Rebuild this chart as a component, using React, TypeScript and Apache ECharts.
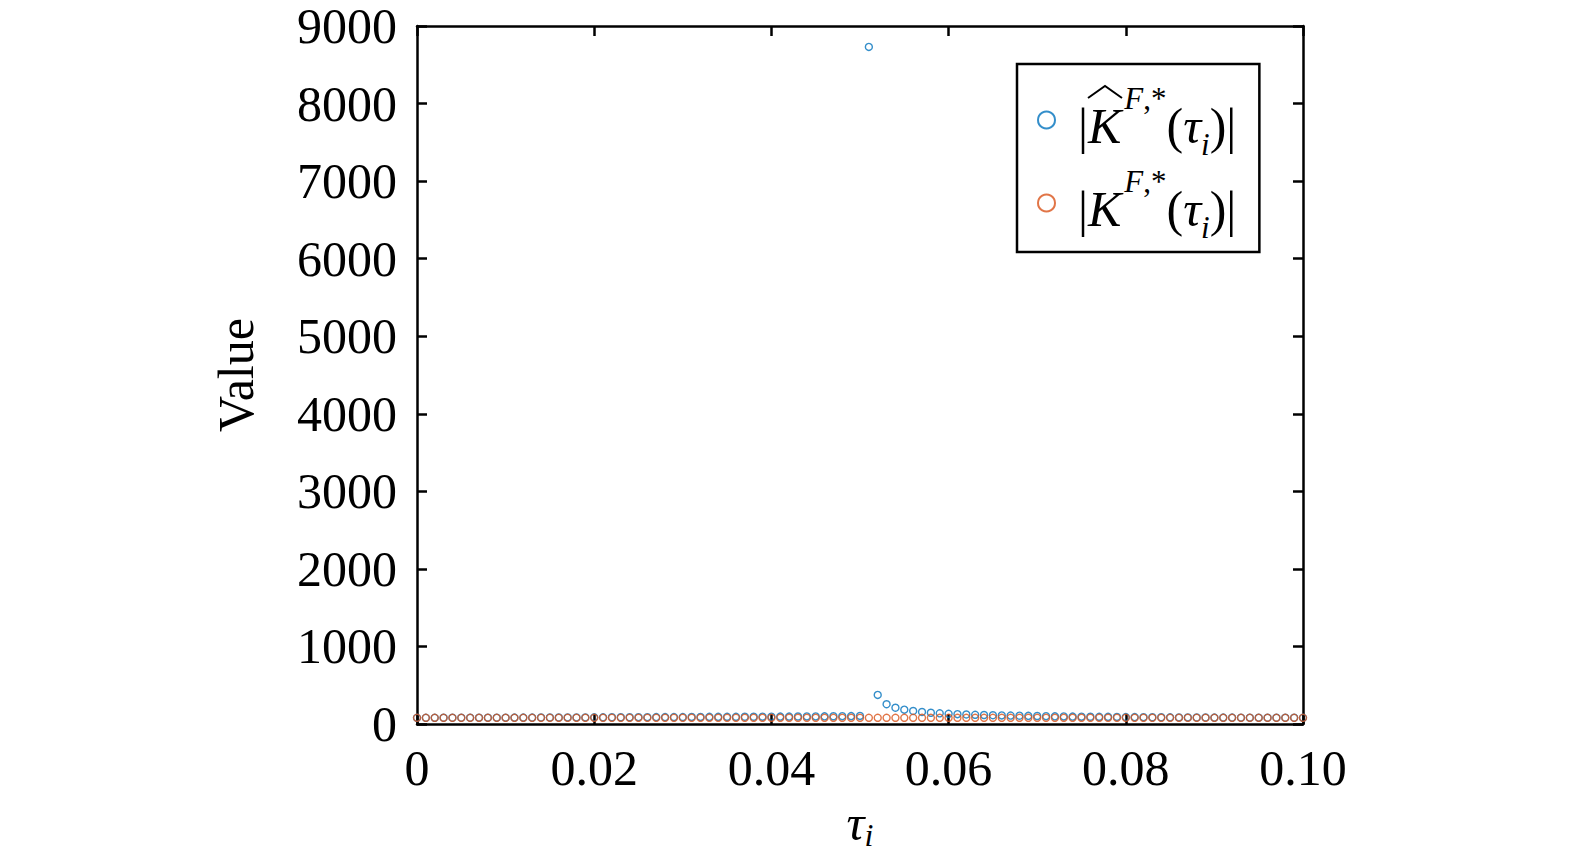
import React, { useEffect, useRef } from "react";
import * as echarts from "echarts";

const tau: number[] = [
  0, 0.001, 0.002, 0.003, 0.004, 0.005, 0.006, 0.007, 0.008, 0.009,
  0.01, 0.011, 0.012, 0.013, 0.014, 0.015, 0.016, 0.017, 0.018, 0.019,
  0.02, 0.021, 0.022, 0.023, 0.024, 0.025, 0.026, 0.027, 0.028, 0.029,
  0.03, 0.031, 0.032, 0.033, 0.034, 0.035, 0.036, 0.037, 0.038, 0.039,
  0.04, 0.041, 0.042, 0.043, 0.044, 0.045, 0.046, 0.047, 0.048, 0.049,
  0.05, 0.051, 0.052, 0.053, 0.054, 0.055, 0.056, 0.057, 0.058, 0.059,
  0.06, 0.061, 0.062, 0.063, 0.064, 0.065, 0.066, 0.067, 0.068, 0.069,
  0.07, 0.071, 0.072, 0.073, 0.074, 0.075, 0.076, 0.077, 0.078, 0.079,
  0.08, 0.081, 0.082, 0.083, 0.084, 0.085, 0.086, 0.087, 0.088, 0.089,
  0.09, 0.091, 0.092, 0.093, 0.094, 0.095, 0.096, 0.097, 0.098, 0.099,
  0.1,
];

const kHat: number[] = [
  80, 80, 80, 81, 81, 81, 81, 82, 82, 82,
  82, 83, 83, 83, 84, 84, 84, 85, 85, 85,
  86, 86, 87, 87, 87, 88, 88, 89, 89, 90,
  90, 91, 91, 92, 92, 93, 93, 94, 94, 95,
  95, 96, 96, 97, 98, 98, 99, 100, 101, 102,
  104, 8730, 375, 255, 210, 185, 168, 155, 145, 138,
  132, 127, 123, 119, 116, 113, 111, 109, 107, 105,
  103, 101, 99, 98, 96, 95, 94, 93, 92, 91,
  90, 89, 88, 87, 87, 86, 85, 85, 84, 84,
  83, 83, 83, 82, 82, 82, 81, 81, 81, 81,
  80,
];

const kTrue: number[] = [
  80, 80, 80, 80, 80, 80, 80, 80, 80, 80,
  80, 80, 80, 80, 80, 80, 80, 80, 80, 80,
  80, 80, 80, 80, 80, 80, 80, 80, 80, 80,
  80, 80, 80, 80, 80, 80, 80, 80, 80, 80,
  80, 80, 80, 80, 80, 80, 80, 80, 80, 80,
  80, 80, 80, 80, 80, 80, 80, 80, 80, 80,
  80, 80, 80, 80, 80, 80, 80, 80, 80, 80,
  80, 80, 80, 80, 80, 80, 80, 80, 80, 80,
  80, 80, 80, 80, 80, 80, 80, 80, 80, 80,
  80, 80, 80, 80, 80, 80, 80, 80, 80, 80,
  80,
];

const seriesNames = ["Khat", "K"];
const yTicks = { min: 0, max: 9000, interval: 1000 };
const xTicks = { min: 0, max: 0.1, interval: 0.02 };

const BLUE = "#0072BD";
const ORANGE = "#D95319";
const FONT = "Times New Roman, Liberation Serif, serif";

export default function App() {
  const ref = useRef<HTMLDivElement>(null);
  useEffect(() => {
    if (!ref.current) return;
    const chart = echarts.init(ref.current, undefined, { renderer: "svg" });
    const axisLine = { show: true, onZero: false, lineStyle: { color: "#000", width: 2.5 } };
    const tick = { show: true, inside: true, length: 10, lineStyle: { color: "#000", width: 2.5 } };
    const rich = {
      n: { fontFamily: FONT, fontSize: 50, lineHeight: 60, color: "#000", verticalAlign: "middle", padding: [12, 0, 0, 0] },
      it: { fontFamily: FONT, fontSize: 50, lineHeight: 60, fontStyle: "italic", color: "#000", verticalAlign: "middle", padding: [12, 0, 0, 0] },
      sup: { fontFamily: FONT, fontSize: 31, lineHeight: 30, fontStyle: "italic", color: "#000", verticalAlign: "top", padding: [3, 0, 0, 3] },
      sups: { fontFamily: FONT, fontSize: 31, lineHeight: 30, color: "#000", verticalAlign: "top", padding: [3, 0, 0, 0] },
      sub: { fontFamily: FONT, fontSize: 31, lineHeight: 60, fontStyle: "italic", color: "#000", verticalAlign: "bottom" },
      sp: { fontSize: 10, lineHeight: 80, width: 0 },
    };
    const option: any = {
      animation: false,
      backgroundColor: "#fff",
      grid: { left: 417, top: 26, right: 272, bottom: 137, containLabel: false, outerBoundsMode: "none" },
      xAxis: [
        {
          type: "value",
          min: xTicks.min,
          max: xTicks.max,
          interval: xTicks.interval,
          position: "bottom",
          axisLine,
          axisTick: tick,
          splitLine: { show: false },
          axisLabel: {
            margin: 19,
            fontFamily: FONT,
            fontSize: 50,
            color: "#000",
            formatter: (v: number) => (v === 0 ? "0" : v.toFixed(2)),
          },
          name: "{t|τ}{s|i}",
          nameLocation: "middle",
          nameGap: 63,
          nameTextStyle: {
            rich: {
              t: { fontFamily: FONT, fontSize: 50, lineHeight: 56, fontStyle: "italic", color: "#000" },
              s: { fontFamily: FONT, fontSize: 32, lineHeight: 36, fontStyle: "italic", color: "#000", verticalAlign: "bottom" },
            },
          },
        },
        {
          type: "value",
          min: xTicks.min,
          max: xTicks.max,
          interval: xTicks.interval,
          position: "top",
          axisLine,
          axisTick: tick,
          axisLabel: { show: false },
          splitLine: { show: false },
        },
      ],
      yAxis: [
        {
          type: "value",
          min: yTicks.min,
          max: yTicks.max,
          interval: yTicks.interval,
          position: "left",
          axisLine,
          axisTick: tick,
          splitLine: { show: false },
          axisLabel: {
            margin: 20,
            fontFamily: FONT,
            fontSize: 50,
            lineHeight: 44,
            color: "#000",
            formatter: (v: number) => String(v),
          },
          name: "Value",
          nameLocation: "middle",
          nameGap: 156,
          nameTextStyle: { fontFamily: FONT, fontSize: 50, color: "#000" },
        },
        {
          type: "value",
          min: yTicks.min,
          max: yTicks.max,
          interval: yTicks.interval,
          position: "right",
          axisLine,
          axisTick: tick,
          axisLabel: { show: false },
          splitLine: { show: false },
        },
      ],
      legend: {
        left: 1017,
        top: 64,
        orient: "vertical",
        backgroundColor: "#fff",
        borderColor: "#000",
        borderWidth: 2.5,
        padding: [16, 23, 9, 20],
        itemGap: 3,
        itemWidth: 17,
        itemHeight: 17,
        data: seriesNames,
        textStyle: { padding: [0, 0, 0, 18], rich },
        formatter: () => "{sp|}{n||}{it|K}{sup|F}{sups|,*}{n|(}{it|τ}{sub|i}{n|)|}",
      },
      series: [
        {
          name: seriesNames[0],
          type: "scatter",
          xAxisIndex: 0,
          yAxisIndex: 0,
          symbol: "circle",
          symbolSize: 7,
          itemStyle: { color: "rgba(255,255,255,0)", borderColor: BLUE, borderWidth: 1.4 },
          data: tau.map((t, i) => [t, kHat[i]]),
        },
        {
          name: seriesNames[1],
          type: "scatter",
          xAxisIndex: 0,
          yAxisIndex: 0,
          symbol: "circle",
          symbolSize: 7,
          itemStyle: { color: "rgba(255,255,255,0)", borderColor: ORANGE, borderWidth: 1.4 },
          data: tau.map((t, i) => [t, kTrue[i]]),
        },
      ],
      graphic: [
        {
          type: "polyline",
          z: 100,
          shape: { points: [[1088, 98], [1105, 86], [1122, 98]] },
          style: { stroke: "#000", lineWidth: 2, fill: "none" },
        },
      ],
    };
    chart.setOption(option);
    return () => chart.dispose();
  }, []);
  return (
    <div
      ref={ref}
      style={{ position: "absolute", left: 0, top: 0, width: 1575, height: 861 }}
    />
  );
}
